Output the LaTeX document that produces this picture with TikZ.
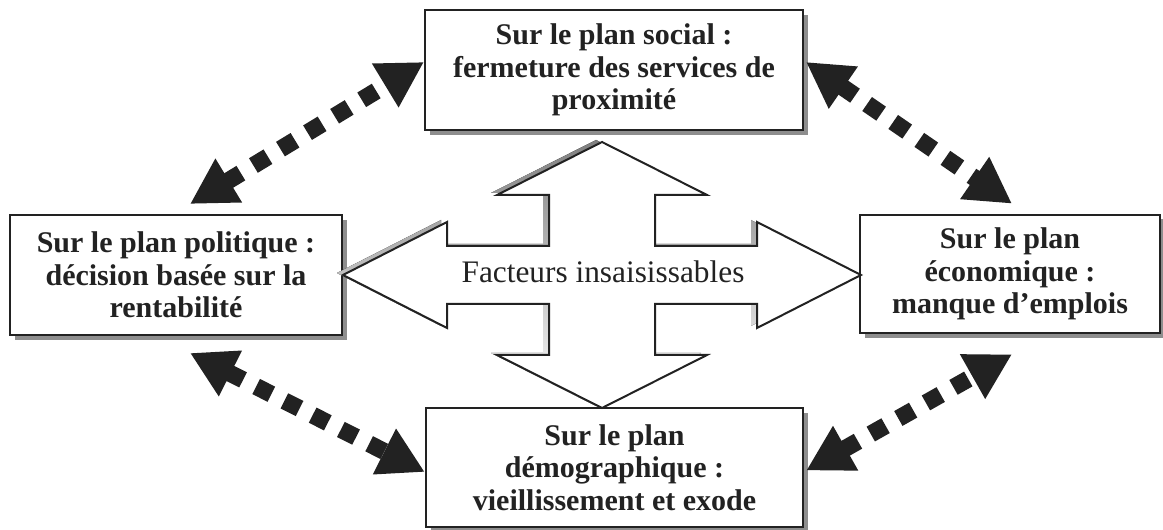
\documentclass[tikz,border=0pt]{standalone}
\usepackage{fontspec}
\setmainfont{Liberation Serif}
\usetikzlibrary{arrows.meta,calc,shadows}
\definecolor{ink}{HTML}{222222}
\definecolor{shade}{HTML}{8E8E8E}
% outline of the four-way arrow in the middle
\newcommand{\crossoutline}{(602,142) -- (707,195) -- (655,195) -- (655,246) -- (757,246)
  -- (757,222) -- (861,275) -- (757,328) -- (757,304) -- (655,304) -- (655,355)
  -- (707,355) -- (602,408) -- (497,355) -- (549,355) -- (549,304) -- (447,304)
  -- (447,328) -- (343,275) -- (447,222) -- (447,246) -- (549,246) -- (549,195)
  -- (497,195) -- cycle}
\begin{document}
\begin{tikzpicture}[x=0.75pt,y=-0.75pt,
  planbox/.style={draw=ink, line width=1.5pt, fill=white, text=ink,
    font=\bfseries\fontsize{22.5}{24.5}\selectfont, align=center, inner sep=0pt,
    drop shadow={shadow xshift=3.5pt, shadow yshift=-3.5pt, fill=shade, opacity=1}},
  link/.style={draw=ink, line width=12.75pt, dash pattern=on 12.75pt off 11pt,
    {Triangle[length=34pt,width=36pt]}-{Triangle[length=34pt,width=36pt]}},
]
\useasboundingbox (0,0) rectangle (1163,530);

% the four domains
\node[planbox, minimum width=283.5pt, minimum height=90pt] (social) at (614,70)
  {Sur le plan social :\\ fermeture des services de\\ proximité};
\node[planbox, minimum width=249pt, minimum height=90pt] (politique) at (176,275)
  {Sur le plan politique :\\ décision basée sur la\\ rentabilité};
\node[planbox, minimum width=225pt, minimum height=89pt] (economique) at (1010,274)
  {Sur le plan\\ économique :\\ manque d’emplois};
\node[planbox, minimum width=283pt, minimum height=89pt] (demo) at (614.5,467.5)
  {Sur le plan\\ démographique :\\ vieillissement et exode};

% central four-way arrow with its shadow
\fill[shade, shift={(-6,-2)}] \crossoutline;
\filldraw[fill=white, draw=ink, line width=1.5pt, line join=miter] \crossoutline;
\node[font=\fontsize{23.5}{26}\selectfont, text=ink, anchor=base] (facteurs) at (603,283)
  {Facteurs insaisissables};

% dotted double arrows between neighbouring domains
\coordinate (pN) at ($(politique.north)+(14,-10)$);
\coordinate (sW) at ($(social.west)+(0,-8)$);
\coordinate (sE) at ($(social.east)+(2,-8)$);
\coordinate (eN) at ($(economique.north)+(2,-10)$);
\coordinate (pS) at ($(politique.south)+(14,17)$);
\coordinate (dW) at ($(demo.west)+(0,4.5)$);
\coordinate (dE) at ($(demo.east)+(2,3)$);
\coordinate (eS) at ($(economique.south)+(2,20)$);
\draw[link] (pN) -- (sW);
\draw[link] (sE) -- (eN);
\draw[link] (pS) -- (dW);
\draw[link] (dE) -- (eS);
\end{tikzpicture}
\end{document}
